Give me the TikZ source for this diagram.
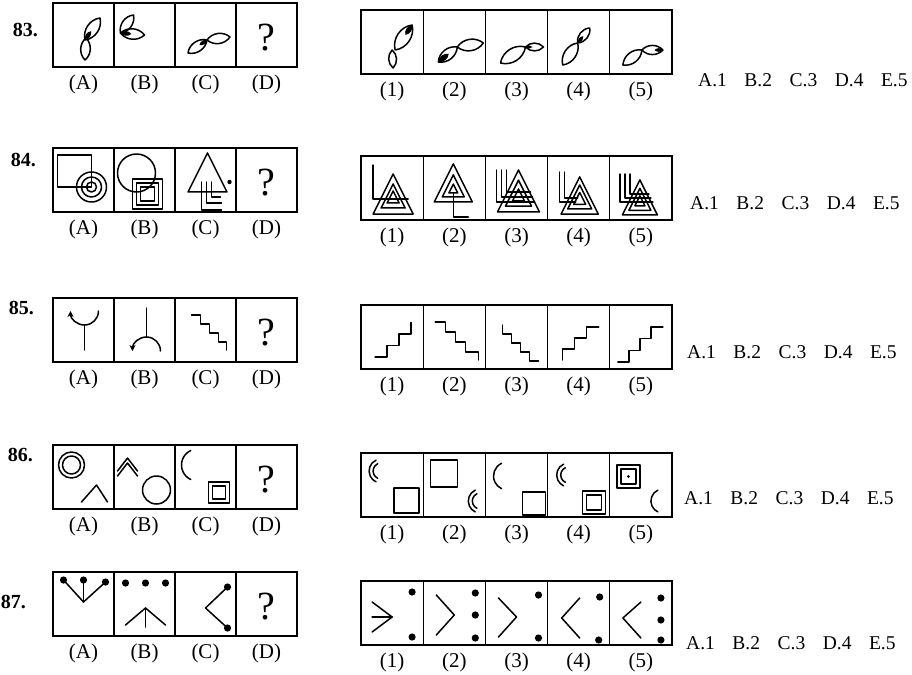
\documentclass[tikz,border=0pt]{standalone}
\usepackage{fontspec}
\setmainfont{Liberation Serif}
\usetikzlibrary{positioning,calc,arrows.meta}
\tikzset{
    lcell/.style={
        draw,
        line width=1.3pt,
        minimum width=61pt,
        minimum height=64pt,
        inner sep=0pt,
        outer sep=0pt
    },
    rcell/.style={lcell, minimum width=62.2pt},
    frame/.style={line width=2pt},
    fig/.style={line width=1.5pt, line cap=round, line join=round},
    lbl/.style={font=\fontsize{21}{21}\selectfont, inner sep=0pt},
    qmark/.style={font=\fontsize{40}{40}\selectfont, inner sep=0pt},
    num/.style={font=\fontsize{20}{20}\selectfont\bfseries, inner sep=0pt},
    ans/.style={font=\fontsize{19.5}{20}\selectfont, inner sep=0pt}
}
% small drawing helpers
\newcommand{\leaf}[2]{\draw[fig] (#1) to[bend left=48] (#2) to[bend left=48] (#1);}
\newcommand{\leaftip}[3]{\fill (#1) to[bend left=48] ($(#1)!#3!(#2)$) to[bend left=48] (#1);}
\newcommand{\tri}[3]{\draw[fig,shift={(#1,#2)},scale=#3] (0,26.7)--(-20,-13.3)--(20,-13.3)--cycle;}
\newcommand{\carc}[3]{\draw[fig] (#1,#2) ++(115:#3pt) arc[start angle=115, end angle=245, radius=#3pt];}
\newcommand{\dsq}[4]{\draw[fig] (#1,#2) rectangle (#3,#4); \draw[fig] ($(#1,#2)+(4,-4)$) rectangle ($(#3,#4)+(-4,4)$);}
\newcommand{\spot}[1]{\fill (#1) circle (3.6pt);}

\begin{document}
\begin{tikzpicture}[x=1pt,y=1pt]
    \useasboundingbox (0,0) rectangle (912,-674);

    % rows of boxes, labels and answers
    \foreach \rw/\yl/\yr/\nx/\ny/\ax/\ay in {83/35/42/38/30/698/80, 84/180/188/36/160/690/203,
        85/330/337/34/308/687/352, 86/477/485/33/455/684/498, 87/604/613/26/602/686/643}{
        \foreach \c [count=\i] in {A,B,C,D}
            \node[lcell] (L\rw\c) at ({83.5+61*(\i-1)},-\yl) {};
        \foreach \c in {1,...,5}
            \node[rcell] (R\rw\c) at ({392.1+62.2*(\c-1)},-\yr) {};
        \draw[frame] (L\rw A.north west) rectangle (L\rw D.south east);
        \draw[frame] (R\rw 1.north west) rectangle (R\rw 5.south east);
        \node[qmark] (Q\rw) at ([yshift=-3pt]L\rw D.center) {?};
        \foreach \c in {A,B,C,D}
            \node[lbl, below=8pt of L\rw\c] (L\rw\c-lab) {(\c)};
        \foreach \c in {1,...,5}
            \node[lbl, below=8pt of R\rw\c] (R\rw\c-lab) {(\c)};
        \node[num, anchor=east] (N\rw) at (\nx,-\ny) {\rw.};
        \node[ans, anchor=west] (Ans\rw) at (\ax,-\ay)
            {A.1\hspace{0.9em}B.2\hspace{0.9em}C.3\hspace{0.9em}D.4\hspace{0.9em}E.5};
    }

    % 83: leaves
    \begin{scope}[shift={(L83A.center)}]
        \leaf{1.5,-5}{16.5,17} \leaf{2.5,-3}{1.5,-25} \leaftip{1.5,-5}{16.5,17}{0.4}
    \end{scope}
    \begin{scope}[shift={(L83B.center)}]
        \leaf{-24,2}{-11,20} \leaf{-24,2}{0,0} \leaftip{-24,2}{0,0}{0.45}
    \end{scope}
    \begin{scope}[shift={(L83C.center)}]
        \leaf{-17.5,-18}{1.5,-5} \leaf{1.5,-5}{24.5,-2} \leaftip{1.5,-5}{-17.5,-18}{0.4}
    \end{scope}
    \begin{scope}[shift={(R831.center)}]
        \leaf{3,-8}{20,17} \leaf{0,-8}{1,-26} \leaftip{20,17}{3,-8}{0.4}
    \end{scope}
    \begin{scope}[shift={(R832.center)}]
        \leaf{-16,-20}{3,-5} \leaf{3,-5}{29,-1} \leaftip{-16,-20}{3,-5}{0.55}
    \end{scope}
    \begin{scope}[shift={(R833.center)}]
        \leaf{-16,-21}{9,-5} \leaf{9,-5}{27,-5} \leaftip{9,-5}{27,-5}{0.4}
    \end{scope}
    \begin{scope}[shift={(R834.center)}]
        \leaf{-16,-23}{-1,-1} \leaf{-1,-1}{11,14} \leaftip{-1,-1}{11,14}{0.45}
    \end{scope}
    \begin{scope}[shift={(R835.center)}]
        \leaf{-18,-23}{1,-8} \leaf{1,-8}{22,-8} \leaftip{22,-8}{1,-8}{0.4}
    \end{scope}

    % 84: nested shapes
    \begin{scope}[shift={(L84A.center)}]
        \draw[fig] (-26,25) rectangle (8,-7);
        \foreach \rr in {15,10,5} \draw[fig] (8,-7) circle (\rr pt);
    \end{scope}
    \begin{scope}[shift={(L84B.center)}]
        \draw[fig] (-8,7) circle (19pt);
        \foreach \h in {15,11,7} \draw[fig] ($(3,-14)+(-\h,\h)$) rectangle ($(3,-14)+(\h,-\h)$);
    \end{scope}
    \begin{scope}[shift={(L84C.center)}]
        \tri{2}{1}{0.975}
        \draw[fig] (-4,-2) |- (16,-30);
        \draw[fig] (1,-2) |- (16,-23);
        \draw[fig] (6,-2) |- (15,-17);
        \fill (24,-2) circle (2.2pt);
    \end{scope}
    \begin{scope}[shift={(R841.center)}]
        \tri{1}{-12.7}{1} \tri{1}{-12}{0.6} \tri{1}{-11}{0.3}
        \draw[fig] (-19,23) |- (16,-11);
    \end{scope}
    \begin{scope}[shift={(R842.center)}]
        \tri{-1}{-1.3}{0.95} \tri{-1}{-1.5}{0.55} \tri{-1}{-2}{0.22}
        \draw[fig] (-1,-5) |- (14,-29);
    \end{scope}
    \begin{scope}[shift={(R843.center)}]
        \tri{2}{-10}{1.05} \tri{2}{-9.5}{0.65} \tri{2}{-9}{0.3}
        \draw[fig] (-20,18) |- (18,-14);
        \draw[fig] (-15,18) |- (16,-9);
        \draw[fig] (-10,18) |- (14,-4);
    \end{scope}
    \begin{scope}[shift={(R844.center)}]
        \tri{1}{-13.7}{0.93} \tri{1}{-13}{0.6} \tri{1}{-12.5}{0.3}
        \draw[fig] (-19,16) |- (-3,-14);
        \draw[fig] (-14,16) |- (-1,-10);
    \end{scope}
    \begin{scope}[shift={(R845.center)}]
        \tri{-1}{-15.3}{0.875} \tri{-1}{-15}{0.55} \tri{-1}{-14.5}{0.25}
        \draw[fig] (-21,14) |- (12,-14);
        \draw[fig] (-16,14) |- (10,-10);
        \draw[fig] (-11,14) |- (8,-6);
    \end{scope}

    % 85: forks and stairs
    \begin{scope}[shift={(L85A.center)}]
        \draw[fig,{Stealth[length=6pt,width=6pt]}-] (-13,19) arc[start angle=180, end angle=270, radius=14pt];
        \draw[fig] (1,5) arc[start angle=270, end angle=360, radius=14pt];
        \draw[fig] (1,5) -- (1,-20);
    \end{scope}
    \begin{scope}[shift={(L85B.center)}]
        \draw[fig] (2,22) -- (2,-7);
        \draw[fig,-{Stealth[length=6pt,width=6pt]}] (2,-7) arc[start angle=90, end angle=180, radius=14pt];
        \draw[fig] (2,-7) arc[start angle=90, end angle=0, radius=14pt];
    \end{scope}
    \begin{scope}[shift={(L85C.center)}]
        \draw[fig] (-14,15) -| ++(9,-9) -| ++(9,-9) -| ++(9,-9) -| ++(8,-8);
    \end{scope}
    \begin{scope}[shift={(R851.center)}]
        \draw[fig] (-17,-20) -| ++(12,11.5) -| ++(12,11.5) -| ++(12,11.5);
    \end{scope}
    \begin{scope}[shift={(R852.center)}]
        \draw[fig] (-19,15) -| ++(10,-10) -| ++(10,-10) -| ++(10,-10) -| ++(13,-8);
    \end{scope}
    \begin{scope}[shift={(R853.center)}]
        \draw[fig] (-14,12) |- ++(9,-9) |- ++(9,-9) |- ++(9,-9) |- ++(9,-9);
    \end{scope}
    \begin{scope}[shift={(R854.center)}]
        \draw[fig] (-16,-23) |- ++(12,11) |- ++(12,11) |- ++(12,11);
    \end{scope}
    \begin{scope}[shift={(R855.center)}]
        \draw[fig] (-23,-25) -| ++(11,11.7) -| ++(11,11.7) -| ++(11,11.7) -- ++(12,0);
    \end{scope}

    % 86: arcs, circles and squares
    \begin{scope}[shift={(L86A.center)}]
        \draw[fig] (-12,12) circle (13pt);
        \draw[fig] (-12,12) circle (9pt);
        \draw[fig] (-2,-25) -- (13,-8) -- (24,-25);
    \end{scope}
    \begin{scope}[shift={(L86B.center)}]
        \draw[fig] (-27,6) -- (-17,19) -- (-7,6);
        \draw[fig] (-27,1) -- (-17,14) -- (-7,1);
        \draw[fig] (12,-13) circle (14pt);
    \end{scope}
    \begin{scope}[shift={(L86C.center)}]
        \carc{-8}{12}{16}
        \dsq{3}{-5}{24}{-26}
    \end{scope}
    \begin{scope}[shift={(R861.center)}]
        \carc{-11}{14}{12} \carc{-11}{14}{8}
        \draw[fig] (2,-3) rectangle (27,-28);
    \end{scope}
    \begin{scope}[shift={(R862.center)}]
        \draw[fig] (-24,25) rectangle (3,-2);
        \carc{26}{-16}{12} \carc{26}{-16}{8}
    \end{scope}
    \begin{scope}[shift={(R863.center)}]
        \carc{-9}{9}{14}
        \draw[fig] (6,-7) rectangle (29,-30);
    \end{scope}
    \begin{scope}[shift={(R864.center)}]
        \carc{-10}{10}{12} \carc{-10}{10}{8}
        \dsq{4}{-6}{27}{-29}
    \end{scope}
    \begin{scope}[shift={(R865.center)}]
        \dsq{-24}{20}{-1}{-3}
        \fill (-12.5,8.5) circle (1.5pt);
        \carc{22}{-16}{12}
    \end{scope}

    % 87: dots and angles
    \begin{scope}[shift={(L87A.center)}]
        \draw[fig] (-20,24) -- (0,2) -- (22,22);
        \draw[fig] (0,24) -- (0,2);
        \spot{-20,24} \spot{0,24} \spot{22,22}
    \end{scope}
    \begin{scope}[shift={(L87B.center)}]
        \spot{-19,21} \spot{1,21} \spot{21,21}
        \draw[fig] (-19,-21) -- (1,-4) -- (21,-21);
        \draw[fig] (1,-4) -- (1,-23);
    \end{scope}
    \begin{scope}[shift={(L87C.center)}]
        \draw[fig] (22,17) -- (0,-4) -- (22,-24);
        \spot{22,17} \spot{22,-24}
    \end{scope}
    \begin{scope}[shift={(R871.center)}]
        \draw[fig] (-20,11) -- (0,-4) -- (-20,-19);
        \draw[fig] (-20,-4) -- (0,-4);
        \spot{20,21} \spot{20,-24}
    \end{scope}
    \begin{scope}[shift={(R872.center)}]
        \draw[fig] (-18,18) -- (0,-2) -- (-18,-22);
        \spot{21,20} \spot{21,-2} \spot{21,-25}
    \end{scope}
    \begin{scope}[shift={(R873.center)}]
        \draw[fig] (-18,15) -- (0,-4) -- (-18,-24);
        \spot{22,18} \spot{22,-25}
    \end{scope}
    \begin{scope}[shift={(R874.center)}]
        \draw[fig] (1,15) -- (-17,-5) -- (1,-25);
        \spot{21,16} \spot{20,-27}
    \end{scope}
    \begin{scope}[shift={(R875.center)}]
        \draw[fig] (0,11) -- (-18,-5) -- (0,-25);
        \spot{20,15} \spot{20,-7} \spot{20,-27}
    \end{scope}
\end{tikzpicture}
\end{document}
